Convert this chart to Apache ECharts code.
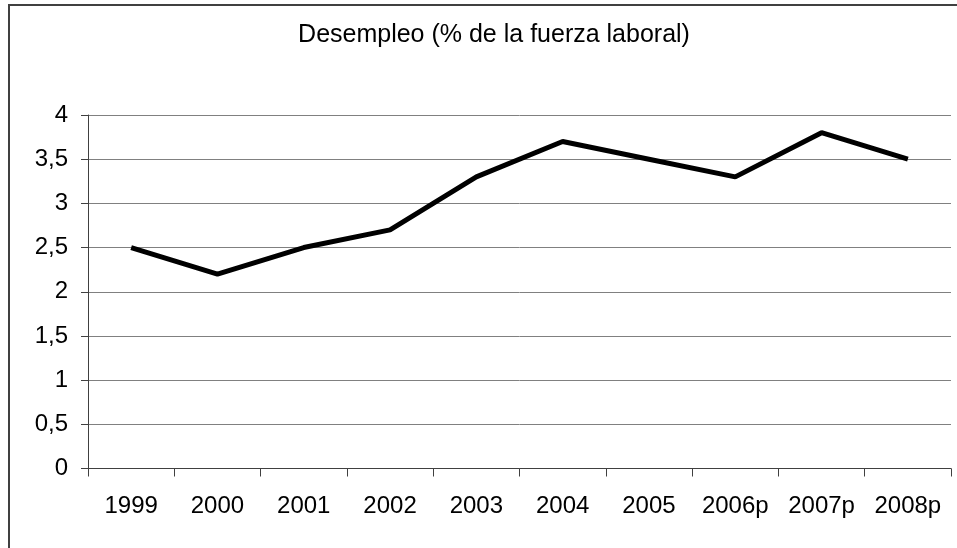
<!DOCTYPE html>
<html lang="es">
<head>
  <meta charset="UTF-8">
  <title>Desempleo</title>
  <style>
    html, body {
      padding: 0;
      margin: 0;
      background: #fff;
    }
    #myChart {
      width: 957px;
      height: 548px;
    }
  </style>
</head>
<body>
  <div id="myChart"></div>
  <script src="https://cdn.jsdelivr.net/npm/echarts@6/dist/echarts.min.js"></script>
  <script>
    const years = ['1999', '2000', '2001', '2002', '2003', '2004', '2005', '2006p', '2007p', '2008p'];
    const desempleo = [2.5, 2.2, 2.5, 2.7, 3.3, 3.7, 3.5, 3.3, 3.8, 3.5];
    const titulo = 'Desempleo (% de la fuerza laboral)';

    const myChart = echarts.init(document.getElementById('myChart'));
    const fontFamily = '"Liberation Sans", Arial, sans-serif';
    const option = {
      backgroundColor: '#fff',
      animation: false,
      title: {
        text: titulo,
        left: 489,
        top: 18,
        textAlign: 'center',
        textStyle: {
          color: '#000',
          fontSize: 25,
          fontWeight: 'normal',
          fontFamily
        }
      },
      // marco exterior del gráfico
      graphic: [{
        type: 'rect',
        shape: { x: 9, y: 5, width: 1000, height: 600 },
        style: { fill: 'none', stroke: '#404040', lineWidth: 2 },
        silent: true
      }],
      grid: {
        left: 88,
        right: 6,
        top: 115,
        bottom: 79.5
      },
      xAxis: {
        type: 'category',
        data: years,
        boundaryGap: true,
        axisLine: { lineStyle: { color: '#404040', width: 1 } },
        axisTick: { show: true, interval: 0, length: 8, lineStyle: { color: '#404040' } },
        axisLabel: {
          interval: 0,
          color: '#000',
          fontSize: 24,
          margin: 26,
          fontFamily
        },
        splitLine: { show: false }
      },
      yAxis: {
        type: 'value',
        min: 0,
        max: 4,
        interval: 0.5,
        axisLine: { show: true, lineStyle: { color: '#404040', width: 1 } },
        axisTick: { show: true, length: 7, lineStyle: { color: '#404040' } },
        axisLabel: {
          color: '#000',
          fontSize: 24,
          margin: 20,
          fontFamily,
          formatter: v => String(v).replace('.', ',')
        },
        splitLine: { show: true, lineStyle: { color: '#808080', width: 1 } }
      },
      series: [{
        type: 'line',
        data: desempleo,
        symbol: 'none',
        lineStyle: { color: '#000', width: 5 },
        itemStyle: { color: '#000' }
      }]
    };
    myChart.setOption(option);
  </script>
</body>
</html>
